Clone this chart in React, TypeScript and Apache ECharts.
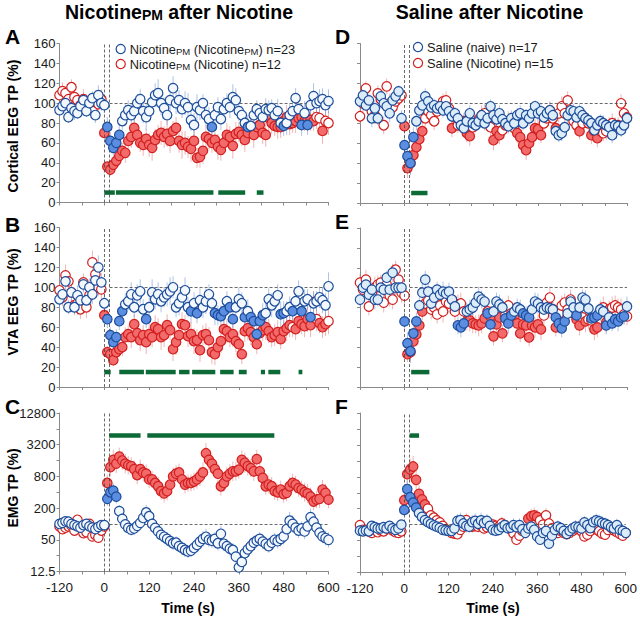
import React, { useEffect, useRef } from "react";
import * as echarts from "echarts";

// ---- time grid ----
const T_START = -120;
const BIN_S = 8;
const N_POINTS = 91;
const INJECTION_LINES = [0, 14];
const REF_LEVEL = 100;
const X_TICKS = [-120, 0, 120, 240, 360, 480, 600];
const LOG_MIN = 12.5;
const LOG_TICK_LABELS = [12.5, 50, 200, 800, 3200, 12800];

// ---- Panel A: Cortical EEG, Nicotine_PM after Nicotine ----
const A_BLUE = [
  93, 97, 100, 86, 95, 92, 90, 97, 103, 92, 100, 105, 88, 108, 100,
  98, 76, 62, 55, 60, 68, 82, 88, 93, 88,
  92, 100, 104, 92, 86, 92, 101, 108, 110, 100,
  95, 88, 103, 115, 100, 103, 94, 100, 96, 83,
  78, 96, 93, 100, 88, 84, 76, 88, 96, 84,
  94, 100, 96, 106, 103, 92, 88, 80, 76, 77,
  88, 94, 90, 86, 94, 93, 95, 88, 92, 80,
  77, 80, 88, 92, 105, 94, 78, 90, 78, 98,
  107, 100, 102, 104, 98, 102,
];
const A_RED = [
  108, 112, 110, 104, 116, 106, 103, 98, 104, 100, 96, 94, 101, 99, 104,
  70, 36, 33, 38, 42, 47, 52, 50, 62, 66,
  75, 68, 60, 58, 64, 58, 55, 63, 68, 70,
  66, 69, 62, 72, 75, 62, 58, 60, 56, 54,
  62, 45, 46, 52, 66, 64, 60, 63, 56, 53,
  60, 68, 66, 57, 69, 71, 68, 63, 70, 76,
  68, 76, 78, 70, 68, 85, 80, 77, 76, 76,
  82, 86, 79, 80, 82, 85, 86, 82, 84, 83,
  82, 86, 85, 72, 82, 80,
];
const A_BLUE_SEM = [
  6, 7, 8, 6, 7, 9, 6, 8, 7, 6, 9, 7, 8, 10, 8,
  8, 10, 9, 8, 9, 10, 9, 11, 10, 12,
  11, 9, 10, 12, 13, 11, 10, 12, 14, 12,
  11, 10, 13, 12, 11, 10, 9, 12, 14, 11,
  12, 13, 10, 9, 11, 12, 14, 13, 10, 11,
  12, 10, 11, 13, 12, 10, 9, 11, 12, 10,
  11, 9, 10, 12, 11, 10, 9, 10, 12, 11,
  10, 12, 11, 13, 10, 9, 11, 12, 10, 11,
  13, 10, 12, 11, 10, 12,
];
const A_RED_SEM = [
  8, 9, 7, 10, 8, 9, 7, 8, 10, 9, 8, 7, 9, 8, 10,
  6, 5, 6, 7, 8, 9, 8, 10, 9, 11,
  12, 10, 9, 11, 10, 12, 13, 11, 10, 12,
  11, 13, 12, 10, 11, 12, 14, 12, 11, 13,
  12, 10, 11, 13, 12, 11, 10, 12, 13, 11,
  10, 12, 11, 13, 12, 10, 11, 12, 10, 11,
  13, 12, 10, 11, 12, 13, 11, 10, 12, 11,
  10, 12, 11, 10, 12, 11, 13, 10, 12, 11,
  10, 12, 11, 13, 10, 12,
];
const A_BLUE_FILLED = [[8, 40], [288, 288], [384, 384], [480, 480], [528, 528], [544, 544]];
const A_RED_FILLED = [[0, 560], [584, 584]];
const A_SIG = [[0, 28], [31, 292], [305, 377], [408, 426]];
const A_SIG_Y = 10;

// ---- Panel B: VTA EEG, Nicotine_PM after Nicotine ----
const B_BLUE = [
  88, 93, 106, 80, 95, 80, 92, 87, 103, 87, 100, 93, 107, 120, 105,
  84, 68, 52, 45, 50, 66, 76, 83, 86, 93,
  80, 92, 96, 78, 68, 80, 95, 88, 93, 86,
  90, 93, 96, 100, 80, 84, 90, 97, 80, 76,
  84, 74, 87, 80, 86, 93, 84, 74, 72, 71,
  76, 86, 80, 68, 80, 88, 84, 70, 76, 70,
  66, 53, 66, 72, 74, 88, 82, 86, 92, 73,
  74, 76, 80, 76, 86, 96, 76, 86, 88, 70,
  84, 86, 90, 87, 82, 101,
];
const B_RED = [
  97, 90, 112, 106, 95, 82, 84, 78, 105, 80, 92, 125, 113, 100, 98,
  72, 35, 33, 27, 35, 38, 40, 50, 53, 50,
  63, 54, 47, 52, 45, 53, 50, 60, 58, 50,
  52, 62, 57, 38, 45, 52, 63, 62, 51, 53,
  46, 47, 37, 52, 53, 47, 35, 33, 40, 46,
  58, 56, 50, 53, 46, 43, 33, 56, 59, 55,
  50, 43, 54, 57, 60, 56, 50, 52, 55, 48,
  56, 59, 62, 60, 58, 66, 63, 61, 68, 62,
  85, 68, 64, 60, 63, 66,
];
const B_BLUE_SEM = [
  9, 8, 10, 7, 9, 8, 10, 9, 8, 11, 9, 10, 8, 12, 9,
  8, 9, 8, 7, 8, 9, 10, 11, 9, 12,
  10, 11, 12, 10, 9, 11, 13, 10, 12, 11,
  10, 12, 14, 11, 10, 12, 11, 13, 10, 12,
  11, 10, 12, 11, 13, 10, 11, 12, 10, 11,
  12, 10, 11, 9, 10, 12, 11, 10, 12, 11,
  10, 9, 11, 12, 10, 11, 12, 10, 11, 13,
  12, 10, 11, 12, 10, 11, 13, 12, 10, 11,
  12, 10, 11, 13, 12, 14,
];
const B_RED_SEM = [
  10, 9, 11, 8, 10, 9, 12, 10, 9, 11, 10, 12, 11, 9, 10,
  7, 6, 5, 6, 7, 8, 9, 10, 9, 11,
  10, 12, 11, 10, 12, 11, 10, 12, 11, 13,
  12, 11, 10, 12, 13, 11, 12, 10, 11, 12,
  13, 11, 12, 10, 11, 13, 12, 11, 10, 12,
  11, 12, 10, 13, 11, 12, 10, 11, 12, 13,
  11, 10, 12, 11, 13, 12, 10, 11, 12, 10,
  11, 13, 12, 10, 11, 12, 10, 11, 13, 12,
  11, 12, 10, 11, 12, 13,
];
const B_BLUE_FILLED = [[8, 48], [112, 112], [232, 232], [248, 248], [296, 320], [336, 344], [376, 376], [392, 424], [472, 480], [504, 504], [528, 528], [552, 552]];
const B_RED_FILLED = [[0, 496], [512, 552], [576, 592]];
const B_SIG = [[0, 17], [40, 106], [111, 191], [200, 228], [235, 297], [310, 346], [360, 381], [419, 430], [439, 471], [520, 530]];
const B_SIG_Y = 15;

// ---- Panel C: EMG, Nicotine_PM after Nicotine (log) ----
const C_BLUE = [
  100, 105, 112, 110, 100, 95, 90, 85, 95, 100, 90, 85, 80, 88, 95,
  95, 300, 400, 430, 330, 175, 125, 98, 84, 78,
  82, 92, 105, 130, 165, 140, 100, 84, 72, 62,
  57, 52, 47, 43, 44, 38, 35, 32, 30, 31,
  35, 40, 46, 52, 57, 50, 48, 52, 43, 65,
  42, 38, 34, 32, 24, 15, 19, 28, 33, 38,
  44, 48, 52, 46, 42, 38, 44, 50, 47, 52,
  58, 80, 115, 100, 85, 75, 82, 72, 90, 135,
  110, 85, 68, 58, 54, 50,
];
const C_RED = [
  90, 80, 85, 90, 92, 75, 120, 85, 67, 70, 100, 58, 62, 55, 75,
  90, 600, 1200, 1650, 1400, 1900, 1600, 1400, 1300, 1250,
  1100, 850, 1100, 950, 900, 700, 700, 600, 520, 420,
  380, 420, 560, 800, 900, 950, 700, 560, 600, 600,
  640, 700, 800, 950, 2200, 1650, 1400, 1100, 900, 520,
  600, 800, 900, 1000, 1000, 1070, 1650, 1450, 1250, 1150,
  1000, 1700, 1000, 750, 520, 560, 520, 420, 400, 450,
  370, 390, 520, 600, 560, 480, 450, 400, 380, 330,
  267, 290, 300, 450, 390, 290,
];
const C_BLUE_SEM_PCT = [
  20, 22, 18, 25, 20, 22, 19, 24, 21, 20, 23, 22, 20, 24, 22,
  22, 35, 40, 38, 35, 30, 32, 35, 33, 30,
  34, 32, 35, 38, 40, 36, 34, 33, 30, 32,
  34, 36, 33, 35, 32, 30, 34, 36, 33, 31,
  35, 38, 36, 40, 42, 38, 36, 34, 37, 40,
  38, 36, 34, 35, 32, 30, 34, 36, 38, 40,
  36, 34, 35, 38, 36, 34, 33, 35, 38, 40,
  42, 45, 48, 44, 40, 38, 36, 40, 42, 45,
  40, 38, 36, 35, 38, 40,
];
const C_RED_SEM_PCT = [
  22, 20, 24, 21, 23, 20, 25, 22, 21, 24, 22, 20, 23, 21, 22,
  24, 45, 50, 55, 52, 48, 50, 52, 50, 48,
  46, 50, 52, 48, 50, 47, 45, 48, 50, 46,
  48, 50, 52, 48, 45, 47, 50, 48, 46, 45,
  48, 50, 52, 55, 58, 54, 50, 48, 52, 50,
  48, 50, 52, 54, 50, 48, 52, 55, 50, 48,
  52, 50, 48, 46, 45, 48, 50, 47, 45, 48,
  46, 45, 48, 50, 47, 46, 48, 50, 52, 48,
  46, 45, 50, 52, 48, 46,
];
const C_BLUE_FILLED = [[8, 32]];
const C_RED_FILLED = [[8, 600]];
const C_SIG = [[13, 97], [115, 455]];
const C_SIG_Y = 4800;

// ---- Panel D: Cortical EEG, Saline after Nicotine ----
const D_BLUE = [
  102, 108, 98, 103, 85, 95, 85, 107, 100, 97, 90, 103, 107, 112, 85,
  58, 47, 40, 66, 82, 93, 98, 107, 102, 96,
  98, 95, 97, 93, 97, 92, 87, 90, 85, 78,
  75, 82, 90, 80, 78, 82, 88, 80, 85, 97,
  88, 84, 90, 84, 80, 77, 85, 80, 88, 90,
  80, 88, 85, 90, 97, 90, 92, 86, 90, 93,
  88, 72, 68, 70, 76, 88, 93, 92, 86, 92,
  88, 85, 83, 80, 73, 78, 82, 80, 78, 76,
  68, 78, 77, 73, 78, 85,
];
const D_RED = [
  87, 100, 115, 98, 92, 88, 110, 104, 78, 117, 100, 96, 102, 105, 108,
  77, 35, 40, 48, 56, 64, 72, 85, 92, 88,
  82, 92, 97, 102, 103, 95, 75, 86, 78, 80,
  82, 70, 67, 76, 80, 84, 88, 90, 80, 76,
  63, 72, 68, 73, 78, 82, 80, 75, 70, 66,
  58, 53, 60, 66, 75, 74, 68, 80, 85, 93,
  85, 75, 90, 97, 90, 103, 88, 82, 78, 72,
  80, 85, 80, 68, 72, 65, 72, 70, 72, 78,
  80, 77, 78, 100, 90, 86,
];
const D_BLUE_SEM = [
  7, 8, 6, 7, 9, 8, 7, 6, 8, 7, 9, 8, 7, 6, 8,
  9, 11, 12, 10, 9, 8, 9, 8, 7, 8,
  7, 6, 8, 7, 6, 7, 8, 6, 7, 8,
  6, 7, 8, 6, 7, 8, 6, 7, 8, 7,
  6, 7, 8, 7, 6, 7, 8, 6, 7, 8,
  7, 6, 8, 7, 6, 7, 8, 7, 6, 8,
  7, 6, 7, 8, 6, 7, 8, 7, 6, 7,
  8, 6, 7, 8, 7, 6, 7, 8, 6, 7,
  8, 7, 6, 7, 8, 7,
];
const D_RED_SEM = [
  8, 9, 7, 8, 10, 9, 8, 7, 9, 8, 10, 9, 8, 9, 8,
  8, 10, 11, 10, 9, 10, 9, 8, 9, 8,
  9, 8, 7, 8, 9, 8, 9, 10, 8, 9,
  8, 9, 10, 8, 9, 8, 10, 9, 8, 9,
  10, 8, 9, 8, 9, 10, 8, 9, 10, 8,
  9, 10, 9, 8, 9, 10, 8, 9, 8, 9,
  10, 8, 9, 10, 8, 9, 8, 9, 10, 8,
  9, 8, 10, 9, 8, 9, 10, 8, 9, 8,
  10, 9, 8, 9, 10, 8,
];
const D_BLUE_FILLED = [[0, 24]];
const D_RED_FILLED = [[0, 48], [128, 128], [168, 176], [240, 256], [304, 368], [408, 408], [472, 472], [504, 520]];
const D_SIG = [[18, 62]];
const D_SIG_Y = 10;

// ---- Panel E: VTA EEG, Saline after Nicotine ----
const E_BLUE = [
  88, 100, 103, 93, 98, 88, 88, 100, 98, 110, 98, 115, 100, 100, 100,
  66, 44, 36, 54, 66, 82, 95, 108, 96, 84,
  90, 98, 93, 96, 94, 96, 88, 81, 62, 60,
  64, 76, 78, 80, 85, 91, 88, 86, 74, 63,
  76, 86, 83, 80, 69, 64, 72, 76, 80, 78,
  74, 72, 70, 78, 86, 84, 80, 78, 80, 79,
  78, 70, 64, 59, 66, 74, 86, 80, 72, 80,
  90, 88, 79, 69, 70, 72, 78, 76, 62, 70,
  64, 68, 66, 70, 71, 81,
];
const E_RED = [
  105, 98, 108, 81, 95, 100, 103, 105, 85, 103, 92, 88, 118, 108, 95,
  92, 33, 35, 46, 53, 62, 76, 84, 87, 78,
  80, 73, 82, 76, 86, 84, 88, 76, 83, 84,
  76, 66, 67, 64, 63, 62, 64, 69, 76, 71,
  51, 63, 70, 54, 72, 82, 74, 70, 64, 54,
  63, 62, 50, 62, 60, 63, 58, 72, 85, 90,
  78, 60, 74, 82, 85, 78, 88, 74, 68, 62,
  70, 66, 68, 67, 58, 60, 75, 80, 65, 78,
  80, 82, 80, 78, 73, 71,
];
const E_BLUE_SEM = [
  7, 8, 9, 7, 8, 10, 7, 8, 9, 7, 8, 9, 8, 7, 9,
  9, 11, 12, 10, 9, 8, 10, 9, 8, 9,
  10, 8, 9, 10, 8, 9, 10, 8, 9, 10,
  8, 9, 10, 8, 9, 10, 9, 8, 9, 10,
  8, 9, 10, 9, 8, 10, 9, 8, 9, 10,
  8, 9, 10, 8, 9, 10, 9, 8, 9, 10,
  8, 9, 10, 9, 8, 10, 9, 8, 9, 10,
  8, 9, 10, 9, 8, 10, 9, 8, 9, 10,
  8, 9, 10, 9, 8, 10,
];
const E_RED_SEM = [
  9, 8, 10, 9, 8, 11, 9, 8, 10, 9, 11, 10, 9, 8, 10,
  9, 8, 9, 10, 11, 10, 9, 8, 9, 10,
  11, 9, 10, 11, 9, 10, 11, 9, 10, 11,
  10, 9, 11, 10, 9, 11, 10, 9, 11, 10,
  9, 11, 10, 9, 11, 10, 9, 11, 10, 9,
  11, 10, 9, 11, 10, 9, 11, 10, 9, 11,
  10, 9, 11, 10, 9, 11, 10, 9, 11, 10,
  9, 11, 10, 9, 11, 10, 9, 11, 10, 9,
  11, 10, 9, 11, 10, 9,
];
const E_BLUE_FILLED = [[0, 32], [144, 160], [224, 232], [272, 288], [320, 336], [408, 432], [464, 464], [504, 520], [544, 544], [560, 592]];
const E_RED_FILLED = [[8, 48], [168, 216], [232, 264], [296, 368], [408, 408], [464, 472], [488, 488], [512, 520], [544, 544]];
const E_SIG = [[18, 67]];
const E_SIG_Y = 15;

// ---- Panel F: EMG, Saline after Nicotine (log) ----
const F_BLUE = [
  77, 75, 77, 75, 95, 90, 85, 85, 90, 85, 95, 85, 80, 85, 100,
  190, 470, 330, 260, 210, 165, 140, 122, 112, 104,
  97, 92, 87, 80, 78, 76, 76, 85, 118, 122,
  105, 95, 92, 112, 118, 104, 120, 108, 118, 95,
  80, 77, 80, 90, 98, 86, 88, 98, 90, 98,
  82, 70, 85, 92, 80, 60, 52, 70, 76, 44,
  62, 80, 92, 86, 76, 67, 76, 85, 92, 90,
  85, 110, 98, 86, 112, 120, 115, 108, 104, 98,
  90, 85, 98, 80, 76, 70,
];
const F_RED = [
  98, 80, 80, 75, 70, 88, 72, 78, 75, 85, 90, 78, 72, 70, 75,
  290, 900, 1100, 1250, 700, 380, 300, 240, 200, 150,
  135, 120, 110, 95, 82, 76, 70, 68, 66, 80,
  92, 122, 100, 92, 95, 92, 95, 85, 90, 95,
  100, 95, 92, 105, 98, 90, 82, 68, 52, 62,
  76, 80, 130, 145, 150, 140, 120, 100, 150, 105,
  85, 75, 70, 76, 70, 66, 70, 76, 85, 90,
  75, 60, 65, 76, 88, 82, 75, 68, 65, 80,
  88, 78, 72, 67, 62, 70,
];
const F_BLUE_SEM_PCT = [
  15, 14, 16, 15, 18, 16, 15, 17, 16, 15, 18, 16, 15, 17, 18,
  30, 45, 40, 38, 35, 32, 30, 28, 26, 25,
  25, 24, 26, 25, 24, 26, 28, 30, 35, 38,
  36, 34, 32, 35, 38, 36, 40, 38, 36, 34,
  30, 28, 30, 32, 34, 30, 32, 34, 32, 35,
  30, 28, 30, 32, 30, 28, 26, 28, 30, 26,
  28, 30, 32, 30, 28, 26, 28, 30, 32, 30,
  30, 34, 32, 30, 34, 36, 35, 34, 32, 30,
  30, 28, 32, 30, 28, 26,
];
const F_RED_SEM_PCT = [
  18, 16, 18, 17, 16, 18, 17, 16, 18, 17, 19, 18, 16, 17, 18,
  40, 55, 60, 58, 50, 45, 40, 38, 35, 32,
  30, 28, 26, 25, 24, 22, 22, 24, 26, 30,
  32, 34, 32, 30, 32, 30, 32, 30, 32, 34,
  32, 30, 32, 34, 32, 30, 28, 26, 24, 26,
  28, 30, 36, 38, 40, 38, 35, 32, 38, 34,
  30, 28, 26, 28, 26, 24, 26, 28, 30, 32,
  28, 26, 28, 30, 32, 30, 28, 26, 25, 28,
  30, 28, 26, 25, 24, 26,
];
const F_BLUE_FILLED = [[0, 32]];
const F_RED_FILLED = [[0, 56], [336, 360]];
const F_SIG = [[15, 40]];
const F_SIG_Y = 4800;

// ---- styles ----
const FONT = "'Liberation Sans', Arial, sans-serif";
const BLUE_EDGE = "#1d4d9b";
const BLUE_FILL = "#5b8ee0";
const RED_EDGE = "#d21f1f";
const RED_FILL = "#f26a6a";
const OPEN_RED = "#ffffff";
const OPEN_BLUE_LEFT = "#f3f8fd";
const OPEN_BLUE_RIGHT = "#dcedf9";
const BLUE_ERR = "rgba(120,155,215,0.6)";
const RED_ERR = "rgba(225,120,120,0.55)";
const GREEN = "#0b6a36";
const AXIS_GRAY = "#8a8a8a";

type Panel = {
  grid: { left: number; top: number; width: number; height: number };
  log: boolean;
  blue: number[]; red: number[];
  blueSem: number[]; redSem: number[];
  blueFilled: number[][]; redFilled: number[][];
  sig: number[][]; sigY: number;
  yLabels: boolean; xLabels: boolean; openBlue: string;
};

const PANELS: Panel[] = [
  { grid: { left: 59.5, top: 43.5, width: 269, height: 159 }, log: false, blue: A_BLUE, red: A_RED, blueSem: A_BLUE_SEM, redSem: A_RED_SEM, blueFilled: A_BLUE_FILLED, redFilled: A_RED_FILLED, sig: A_SIG, sigY: A_SIG_Y, yLabels: true, xLabels: false, openBlue: OPEN_BLUE_LEFT },
  { grid: { left: 59.5, top: 227.5, width: 269, height: 159.5 }, log: false, blue: B_BLUE, red: B_RED, blueSem: B_BLUE_SEM, redSem: B_RED_SEM, blueFilled: B_BLUE_FILLED, redFilled: B_RED_FILLED, sig: B_SIG, sigY: B_SIG_Y, yLabels: true, xLabels: false, openBlue: OPEN_BLUE_LEFT },
  { grid: { left: 59.5, top: 413, width: 269, height: 158.5 }, log: true, blue: C_BLUE, red: C_RED, blueSem: C_BLUE_SEM_PCT, redSem: C_RED_SEM_PCT, blueFilled: C_BLUE_FILLED, redFilled: C_RED_FILLED, sig: C_SIG, sigY: C_SIG_Y, yLabels: true, xLabels: true, openBlue: OPEN_BLUE_LEFT },
  { grid: { left: 360, top: 43.5, width: 267, height: 159.5 }, log: false, blue: D_BLUE, red: D_RED, blueSem: D_BLUE_SEM, redSem: D_RED_SEM, blueFilled: D_BLUE_FILLED, redFilled: D_RED_FILLED, sig: D_SIG, sigY: D_SIG_Y, yLabels: false, xLabels: false, openBlue: OPEN_BLUE_RIGHT },
  { grid: { left: 360, top: 228, width: 267, height: 159 }, log: false, blue: E_BLUE, red: E_RED, blueSem: E_BLUE_SEM, redSem: E_RED_SEM, blueFilled: E_BLUE_FILLED, redFilled: E_RED_FILLED, sig: E_SIG, sigY: E_SIG_Y, yLabels: false, xLabels: false, openBlue: OPEN_BLUE_RIGHT },
  { grid: { left: 360, top: 413, width: 267, height: 159.5 }, log: true, blue: F_BLUE, red: F_RED, blueSem: F_BLUE_SEM_PCT, redSem: F_RED_SEM_PCT, blueFilled: F_BLUE_FILLED, redFilled: F_RED_FILLED, sig: F_SIG, sigY: F_SIG_Y, yLabels: false, xLabels: true, openBlue: OPEN_BLUE_RIGHT },
];

const TIMES = Array.from({ length: N_POINTS }, (_, i) => T_START + i * BIN_S);

function inRanges(t: number, ranges: number[][]) {
  return ranges.some(([a, b]) => t >= a && t <= b);
}

function buildOption() {
  const grid: any[] = [];
  const xAxis: any[] = [];
  const yAxis: any[] = [];
  const series: any[] = [];

  PANELS.forEach((p, gi) => {
    grid.push({ ...p.grid, containLabel: false });
    const yMin = p.log ? 0 : 0;
    const yMax = p.log ? 10 : 160;
    const ty = (v: number) => (p.log ? Math.log2(v / LOG_MIN) : v);
    const clamp = (v: number) => Math.max(yMin, Math.min(yMax, v));

    xAxis.push({
      type: "value", gridIndex: gi, min: -120, max: 600, interval: 60,
      axisLine: { show: true, onZero: false, lineStyle: { color: AXIS_GRAY, width: 1 } },
      axisTick: { show: true, length: 3, lineStyle: { color: AXIS_GRAY } },
      axisLabel: {
        show: p.xLabels, margin: 9, fontSize: 13.5, color: "#1a1a1a", fontFamily: FONT,
        formatter: (v: number) => (X_TICKS.includes(v) ? String(v) : ""),
      },
      splitLine: { show: false },
    });
    yAxis.push({
      type: "value", gridIndex: gi, min: yMin, max: yMax, interval: p.log ? 1 : 20,
      axisLine: { show: true, onZero: false, lineStyle: { color: AXIS_GRAY, width: 1 } },
      axisTick: { show: true, length: 3, lineStyle: { color: AXIS_GRAY } },
      axisLabel: {
        show: p.yLabels, margin: 4, fontSize: 13, color: "#1a1a1a", fontFamily: FONT,
        formatter: (v: number) => {
          if (!p.log) return String(v);
          const raw = LOG_MIN * Math.pow(2, v);
          const hit = LOG_TICK_LABELS.find((L) => Math.abs(L - raw) < 1e-6);
          return hit !== undefined ? String(hit) : "";
        },
      },
      splitLine: { show: false },
    });

    const errData = (vals: number[], sems: number[]) =>
      TIMES.map((t, i) => {
        const v = vals[i];
        const s = sems[i];
        let lo: number, hi: number;
        if (p.log) {
          lo = ty(v / (1 + s / 100));
          hi = ty(v * (1 + s / 100));
        } else {
          lo = v - s;
          hi = v + s;
        }
        return [t, clamp(lo), clamp(hi)];
      });

    const errSeries = (vals: number[], sems: number[], color: string) => ({
      type: "custom", xAxisIndex: gi, yAxisIndex: gi, silent: true, z: 1,
      data: errData(vals, sems),
      encode: { x: 0, y: [1, 2] },
      renderItem: (_params: any, api: any) => {
        const a = api.coord([api.value(0), api.value(1)]);
        const b = api.coord([api.value(0), api.value(2)]);
        return { type: "line", shape: { x1: a[0], y1: a[1], x2: b[0], y2: b[1] }, style: { stroke: color, lineWidth: 1 } };
      },
    });
    series.push(errSeries(p.red, p.redSem, RED_ERR));
    series.push(errSeries(p.blue, p.blueSem, BLUE_ERR));

    // significance bars
    series.push({
      type: "custom", xAxisIndex: gi, yAxisIndex: gi, silent: true, z: 3,
      data: p.sig.map(([s, e]) => [s, e, ty(p.sigY)]),
      encode: { x: [0, 1], y: 2 },
      renderItem: (_params: any, api: any) => {
        const a = api.coord([api.value(0), api.value(2)]);
        const b = api.coord([api.value(1), api.value(2)]);
        return { type: "rect", shape: { x: a[0], y: a[1] - 2.25, width: b[0] - a[0], height: 4.5 }, style: { fill: GREEN } };
      },
    });

    const refY = ty(REF_LEVEL);
    const scatter = (vals: number[], filled: number[][], edge: string, fill: string, open: string, z: number, withMarks: boolean) => ({
      type: "scatter", xAxisIndex: gi, yAxisIndex: gi, z, symbol: "circle", symbolSize: 9.5,
      itemStyle: { borderColor: edge, borderWidth: 1.2, opacity: 1 },
      data: TIMES.map((t, i) => ({
        value: [t, ty(vals[i])],
        itemStyle: { color: inRanges(t, filled) ? fill : open },
      })),
      markLine: withMarks
        ? {
            silent: true, symbol: ["none", "none"], label: { show: false },
            lineStyle: { color: "#444", type: [3, 2], width: 0.8 },
            emphasis: { disabled: true },
            data: [
              ...INJECTION_LINES.map((x) => ({ xAxis: x })),
              [{ coord: [INJECTION_LINES[1], refY] }, { coord: [600, refY] }],
            ],
          }
        : undefined,
    });
    series.push(scatter(p.red, p.redFilled, RED_EDGE, RED_FILL, OPEN_RED, 4, true));
    series.push(scatter(p.blue, p.blueFilled, BLUE_EDGE, BLUE_FILL, p.openBlue, 5, false));
  });

  const title = (x: number, y: number, text: string, rich: any) => ({
    type: "text", x, y, z: 10,
    style: { text, align: "center", verticalAlign: "middle", rich, fontFamily: FONT },
  });
  const bigRich = {
    m: { fontSize: 19.5, fontWeight: "bold", fontFamily: FONT, fill: "#000", lineHeight: 20, verticalAlign: "bottom" },
    s: { fontSize: 14, fontWeight: "bold", fontFamily: FONT, fill: "#000", lineHeight: 8, verticalAlign: "bottom" },
  };
  const legRich = {
    m: { fontSize: 12.8, fontFamily: FONT, fill: "#1a1a1a", lineHeight: 14, verticalAlign: "bottom" },
    s: { fontSize: 9.5, fontFamily: FONT, fill: "#1a1a1a", lineHeight: 5, verticalAlign: "bottom" },
  };
  const boldText = (x: number, y: number, text: string, size: number, rotate = false, align = "center") => ({
    type: "text", x, y, rotation: rotate ? Math.PI / 2 : 0, z: 10,
    style: { text, fontSize: size, fontWeight: "bold", fontFamily: FONT, fill: "#000", align, verticalAlign: "middle" },
  });
  const legendItem = (cx: number, cy: number, edge: string, text: string) => [
    { type: "circle", shape: { cx, cy, r: 4.6 }, style: { fill: "#fff", stroke: edge, lineWidth: 1.2 }, z: 10 },
    { type: "text", x: cx + 9, y: cy, z: 10, style: { text, align: "left", verticalAlign: "middle", rich: legRich } },
  ];

  const graphic: any[] = [
    title(179, 11.5, "{m|Nicotine}{s|PM}{m| after Nicotine}", bigRich),
    title(489.5, 11.5, "{m|Saline after Nicotine}", bigRich),
    boldText(5, 36, "A", 21, false, "left"),
    boldText(5, 224, "B", 21, false, "left"),
    boldText(5, 406, "C", 21, false, "left"),
    boldText(335, 36, "D", 21, false, "left"),
    boldText(335, 221, "E", 21, false, "left"),
    boldText(335, 406, "F", 21, false, "left"),
    boldText(13, 126, "Cortical EEG TP (%)", 14, true),
    boldText(13, 302, "VTA EEG TP (%)", 14, true),
    boldText(13, 488, "EMG TP (%)", 14, true),
    boldText(188, 608, "Time (s)", 14),
    boldText(493, 608, "Time (s)", 14),
    ...legendItem(120.7, 49, BLUE_EDGE, "{m|Nicotine}{s|PM}{m| (Nicotine}{s|PM}{m|) n=23}"),
    ...legendItem(120.7, 64, RED_EDGE, "{m|Nicotine}{s|PM}{m| (Nicotine) n=12}"),
    ...legendItem(418, 47, BLUE_EDGE, "{m|Saline (naive) n=17}"),
    ...legendItem(418, 63, RED_EDGE, "{m|Saline (Nicotine) n=15}"),
  ];

  return {
    animation: false,
    backgroundColor: "#fff",
    textStyle: { fontFamily: FONT },
    grid, xAxis, yAxis, series, graphic,
  };
}

export default function App() {
  const ref = useRef<HTMLDivElement>(null);
  useEffect(() => {
    if (!ref.current) return;
    const chart = echarts.init(ref.current, undefined, { renderer: "svg" });
    chart.setOption(buildOption() as any);
    return () => chart.dispose();
  }, []);
  return <div ref={ref} style={{ position: "absolute", left: 0, top: 0, width: 640, height: 621, background: "#fff" }} />;
}
